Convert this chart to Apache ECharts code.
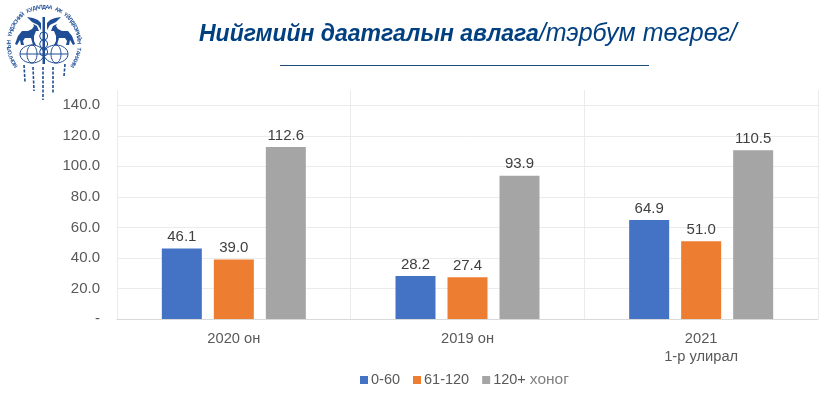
<!DOCTYPE html>
<html><head><meta charset="utf-8">
<style>html,body{margin:0;padding:0;background:#fff}#c{width:825px;height:393px}</style>
<script src="https://cdn.jsdelivr.net/npm/echarts@6/dist/echarts.min.js"></script>
</head><body><div id="c"></div>
<script>
const categories = ['2020 он', '2019 он', '2021\n1-р улирал'];
const seriesNames = ['0-60', '61-120', '120+'];
const days0to60 = [46.1, 28.2, 64.9];
const days61to120 = [39.0, 27.4, 51.0];
const days120plus = [112.6, 93.9, 110.5];
const colors = ['#4472C4', '#ED7D31', '#A5A5A5'];
const logoTop = 'МОНГОЛЫН ҮНДЭСНИЙ ХУДАЛДАА АЖ ҮЙЛДВЭРИЙН ТАНХИМ';
const font = '"Liberation Sans", Arial, sans-serif';
const navy = '#1F4E96';

function ringText() {
  const cx = 44, cy = 44, rx = 35, ry = 37, start = -125, end = 125;
  const chars = logoTop.split('');
  return chars.map((ch, i) => {
    const a = start + (end - start) * i / (chars.length - 1);
    const rad = a * Math.PI / 180;
    return {
      type: 'text', x: cx + rx * Math.sin(rad), y: cy - ry * Math.cos(rad), rotation: -rad,
      style: { text: ch, fill: navy, font: 'bold 5.5px ' + font, textAlign: 'center', textVerticalAlign: 'middle' }
    };
  });
}
const horseLeft = [[15,44],[18,36],[22,31],[28,31],[32,29],[34,26],[33,24],[37,26],[39,31],[36,31],[34,36],[34,41],[36,45],[33,45],[31,38],[25,38],[23,41],[24,45],[21,45],[20,40],[17,45]];
const horseRight = horseLeft.map(p => [90 - p[0], p[1]]);
const wingLeft = [[41,30],[38,25],[32,22],[27,17],[33,18],[38,20],[41,23]];
const wingRight = wingLeft.map(p => [88 - p[0], p[1]]);
const thin = { stroke: navy, fill: 'none', lineWidth: 1 };
const script = { stroke: navy, lineWidth: 1.6, lineDash: [3, 1.5] };
const scriptLines = [[24,65,25,82],[33,67,34,91],[43,67,43,100],[53,67,53,93],[65,64,64,76]];
const logo = ringText().concat([
  { type: 'polygon', shape: { points: horseLeft }, style: { fill: navy } },
  { type: 'polygon', shape: { points: horseRight }, style: { fill: navy } },
  { type: 'polygon', shape: { points: wingLeft }, style: { fill: navy } },
  { type: 'polygon', shape: { points: wingRight }, style: { fill: navy } },
  { type: 'ellipse', shape: { cx: 32, cy: 54, rx: 12, ry: 9 }, style: thin },
  { type: 'ellipse', shape: { cx: 56, cy: 54, rx: 12, ry: 9 }, style: thin },
  { type: 'ellipse', shape: { cx: 32, cy: 54, rx: 5, ry: 9 }, style: thin },
  { type: 'ellipse', shape: { cx: 56, cy: 54, rx: 5, ry: 9 }, style: thin },
  { type: 'line', shape: { x1: 20, y1: 54, x2: 68, y2: 54 }, style: thin },
  { type: 'rect', shape: { x: 42.5, y: 17, width: 2.5, height: 47 }, style: { fill: navy } },
  { type: 'circle', shape: { cx: 43.7, cy: 36, r: 4 }, style: thin },
  { type: 'circle', shape: { cx: 43.7, cy: 44, r: 4 }, style: thin },
  { type: 'circle', shape: { cx: 43.7, cy: 52, r: 4 }, style: thin }
]).concat(scriptLines.map(s => ({
  type: 'line', shape: { x1: s[0], y1: s[1], x2: s[2], y2: s[3] }, style: script
})));

const label = {
  show: true, position: 'top', distance: 4, color: '#404040', fontSize: 15, fontFamily: font,
  formatter: p => p.value.toFixed(1)
};
const mk = (name, data, i) => ({
  name, type: 'bar', data, barWidth: 40, barGap: '30%', label,
  itemStyle: { color: colors[i] }
});

const chart = echarts.init(document.getElementById('c'), null, { renderer: 'canvas' });
chart.setOption({
  animation: false,
  backgroundColor: '#fff',
  color: colors,
  grid: { left: 117, right: 7, top: 90, bottom: 74 },
  legend: {
    left: 355, top: 367, itemWidth: 8, itemHeight: 8, itemGap: 13, icon: 'rect',
    data: seriesNames,
    formatter: n => n === '120+' ? '120+ {s|хоног}' : n,
    textStyle: {
      color: '#595959', fontSize: 14.5, fontFamily: font, padding: [0, 0, 0, -2],
      rich: { s: { fontSize: 15.5, color: '#7F7F7F', fontFamily: font } }
    }
  },
  xAxis: {
    type: 'category', data: categories,
    axisLine: { lineStyle: { color: '#D9D9D9' } },
    axisTick: { show: false },
    splitLine: { show: true, lineStyle: { color: '#EBEBEB' } },
    axisLabel: { color: '#595959', fontSize: 14.7, fontFamily: font, margin: 11, lineHeight: 18 }
  },
  yAxis: {
    type: 'value', min: 0, max: 150, interval: 20,
    axisLine: { show: false }, axisTick: { show: false },
    splitLine: { show: true, showMaxLine: false, lineStyle: { color: '#EBEBEB', width: 1 } },
    axisLabel: {
      color: '#595959', fontSize: 15, fontFamily: font, margin: 17, showMaxLabel: false, padding: [2, 0, 0, 0],
      formatter: v => v === 0 ? '-' : v.toFixed(1)
    }
  },
  series: [mk(seriesNames[0], days0to60, 0), mk(seriesNames[1], days61to120, 1), mk(seriesNames[2], days120plus, 2)],
  graphic: [
    {
      type: 'text', x: 199, y: 22,
      style: {
        text: '{b|Нийгмийн даатгалын авлага}{n|/тэрбум төгрөг/}',
        rich: {
          b: { font: 'italic bold 23px ' + font, fill: '#003F80' },
          n: { font: 'italic 25px ' + font, fill: '#003F80' }
        }
      }
    },
    { type: 'line', shape: { x1: 280, y1: 65.5, x2: 649, y2: 65.5 }, style: { stroke: '#1F4E79', lineWidth: 1 } },
    { type: 'group', children: logo }
  ]
});
</script></body></html>
